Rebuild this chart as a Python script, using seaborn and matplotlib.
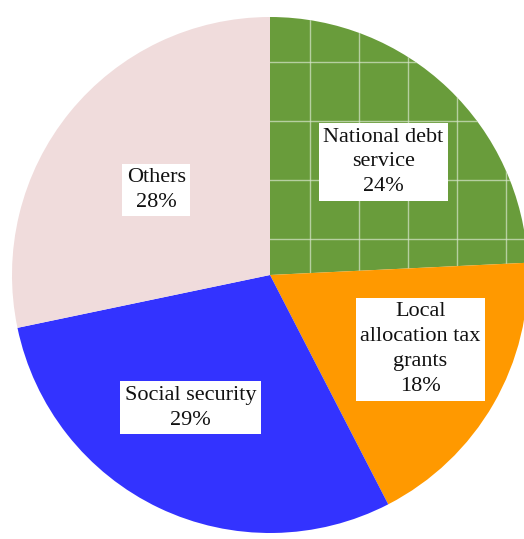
import numpy as np
import matplotlib
matplotlib.use("Agg")
import matplotlib.pyplot as plt
import seaborn as sns

# Budget breakdown
categories = ["National debt\nservice", "Local\nallocation tax\ngrants", "Social security", "Others"]
shares = [24, 18, 29, 28]
colors = ["#699c3b", "#ff9900", "#3333ff", "#f0dcdc"]

sns.set_theme(style="white")
plt.rcParams["font.family"] = "serif"
plt.rcParams["font.serif"] = ["Liberation Serif", "DejaVu Serif"]

W, H, DPI = 524, 539, 100
fig = plt.figure(figsize=(W / DPI, H / DPI), dpi=DPI)
fig.patch.set_facecolor("white")

cx, cy, r = 270, 275, 258
ax = fig.add_axes([(cx - r) / W, (H - cy - r) / H, 2 * r / W, 2 * r / H])
ax.set_facecolor("white")

wedges, _ = ax.pie(shares, colors=colors, startangle=90, counterclock=False,
                   radius=1.0, wedgeprops=dict(linewidth=0, antialiased=True))

# light grid pattern inside the debt-service wedge
debt = wedges[0]
for x in np.arange(0.155, 1.0, 0.19):
    ln, = ax.plot([x, x], [-0.1, 1.05], color="#d8e6cc", lw=1.0, alpha=0.7)
    ln.set_clip_path(debt)
for y in np.arange(0.14, 1.0, 0.228):
    ln, = ax.plot([-0.1, 1.05], [y, y], color="#d8e6cc", lw=1.0, alpha=0.7)
    ln.set_clip_path(debt)

# labels placed along each wedge's middle direction
dist = [0.62, 0.65, 0.60, 0.55]
angle_shift = [-1.4, 3.7, -5.5, 2.3]
for w, cat, v, d, da in zip(wedges, categories, shares, dist, angle_shift):
    mid = np.deg2rad((w.theta1 + w.theta2) / 2 + da)
    ax.text(d * np.cos(mid), d * np.sin(mid), f"{cat}\n{v}%", ha="center", va="center",
            fontsize=16, color="#111111", linespacing=1.42,
            fontfamily="Liberation Serif",
            bbox=dict(boxstyle="square,pad=0.2", fc="white", ec="none"))

ax.set_xlim(-1, 1)
ax.set_ylim(-1, 1)
ax.set_aspect("auto")
ax.axis("off")

fig.savefig("out.png", dpi=DPI, facecolor="white")
